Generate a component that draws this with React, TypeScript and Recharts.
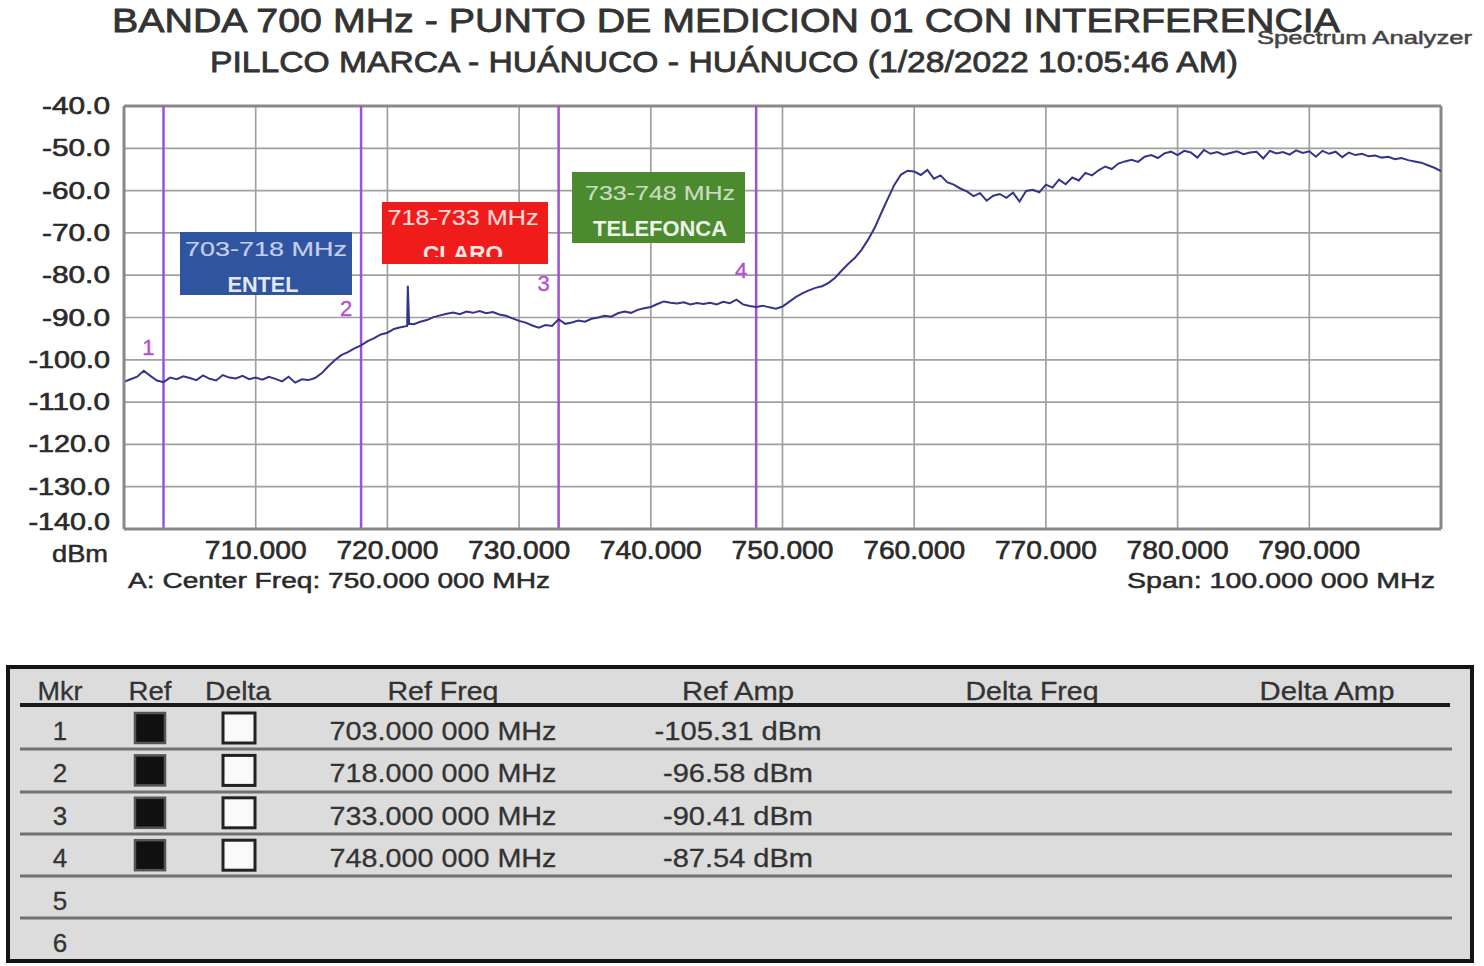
import React from 'react';
import { LineChart, Line, XAxis, YAxis, CartesianGrid, ReferenceLine, ReferenceDot } from 'recharts';

// ---------- data ----------
const SWEEP_START = 700;
const SWEEP_STEP = 0.5;
// trace amplitude (dBm) every 0.5 MHz from 700 to 800 MHz
const traceDbm = [
  -105.2, -104.6, -104.0, -102.6, -103.8, -104.9, -105.3, -104.2, -104.6, -103.9,
  -104.3, -104.8, -103.7, -104.5, -104.9, -103.6, -104.2, -104.4, -103.8, -104.6,
  -104.2, -104.7, -104.0, -104.5, -105.1, -104.0, -105.4, -104.6, -104.8, -104.3,
  -103.2, -101.6, -100.1, -98.9, -98.2, -97.3, -96.6, -95.6, -94.9, -94.0,
  -93.6, -92.7, -92.3, -92.0, -91.6, -91.0, -90.6, -89.9, -89.5, -89.1,
  -88.8, -89.2, -88.6, -88.9, -88.5, -89.0, -88.7, -89.3, -89.6, -90.2,
  -90.8, -91.2, -91.9, -92.4, -91.8, -92.0, -90.4, -91.5, -91.2, -90.7,
  -91.0, -90.3, -90.0, -89.6, -89.8, -89.0, -88.6, -88.9, -88.2, -87.8,
  -87.5, -86.8, -86.2, -86.5, -86.7, -86.4, -86.9, -86.6, -86.8, -86.5,
  -86.9, -86.3, -86.6, -85.8, -86.9, -87.3, -87.5, -87.2, -87.6, -87.9,
  -87.4, -86.3, -85.2, -84.3, -83.6, -83.0, -82.6, -81.8, -80.6, -78.9,
  -77.3, -75.9, -74.0, -71.6, -68.8, -65.3, -61.9, -58.6, -56.2, -55.3,
  -55.5, -56.3, -55.1, -57.2, -56.4, -58.0, -58.6, -59.5, -60.2, -61.3,
  -60.6, -62.4, -61.2, -60.8, -61.7, -60.5, -62.6, -60.1, -59.8, -60.4,
  -58.6, -59.3, -57.4, -58.5, -56.9, -57.6, -55.8, -56.4, -55.2, -54.3,
  -54.9, -53.6, -53.1, -52.7, -53.2, -52.0, -51.6, -52.3, -51.2, -50.8,
  -51.6, -50.6, -51.0, -52.2, -50.4, -51.3, -50.9, -51.5, -51.1, -50.7,
  -51.4, -51.0, -50.8, -52.4, -50.6, -51.2, -50.9, -51.5, -50.5, -51.1,
  -50.7, -52.0, -50.6, -51.3, -50.8, -52.1, -51.0, -51.6, -51.3, -51.9,
  -51.7, -52.2, -52.0, -52.6, -52.3, -52.8, -53.1, -53.4, -54.0, -54.6,
  -55.4,
];
// narrow interference spike near 721.5 MHz
const spikeFreqs = [721.55, 721.65];
const spikeDbm = [-82.5, -91.5];

const xTicks = [710, 720, 730, 740, 750, 760, 770, 780, 790];
const yTicks = [-40, -50, -60, -70, -80, -90, -100, -110, -120, -130, -140];

const markerIds = [1, 2, 3, 4];
const markerFreqs = [703, 718, 733, 748];
const markerLabelDbm = [-97, -87.8, -81.8, -78.8];
const markerFreqText = ['703.000 000 MHz', '718.000 000 MHz', '733.000 000 MHz', '748.000 000 MHz'];
const markerAmpText = ['-105.31 dBm', '-96.58 dBm', '-90.41 dBm', '-87.54 dBm'];
const tableRowIds = [1, 2, 3, 4, 5, 6];
const tableHeaders = ['Mkr', 'Ref', 'Delta', 'Ref Freq', 'Ref Amp', 'Delta Freq', 'Delta Amp'];

const chartData = [
  ...traceDbm.map((v, i) => ({ f: SWEEP_START + i * SWEEP_STEP, v })),
  ...spikeFreqs.map((f, i) => ({ f, v: spikeDbm[i] })),
].sort((a, b) => a.f - b.f);

// ---------- styling ----------
const FONT = '"Liberation Sans", Arial, Helvetica, sans-serif';

function T(props: any) {
  const { x, y, children, size, len, anchor = 'middle', weight = 400, fill = '#333', clip, sw = 0.5 } = props;
  return (
    <text
      x={x}
      y={y}
      fontSize={size}
      fontFamily={FONT}
      fontWeight={weight}
      textAnchor={anchor}
      fill={fill}
      stroke={fill}
      strokeWidth={sw}
      textLength={len}
      lengthAdjust="spacingAndGlyphs"
      clipPath={clip}
    >
      {children}
    </text>
  );
}

const YTick = (props: any) => {
  const { x, y, payload } = props;
  const label = payload.value.toFixed(1);
  const yy = payload.value === -140 ? y - 7 : y;
  return (
    <text x={x - 2} y={yy + 8} textAnchor="end" fontFamily={FONT} fontSize={23} fill="#2a2a2a"
      stroke="#2a2a2a" strokeWidth={0.6}
      textLength={label.length * 13.6} lengthAdjust="spacingAndGlyphs">
      {label}
    </text>
  );
};

const XTick = (props: any) => {
  const { x, y, payload } = props;
  const label = payload.value.toFixed(3);
  return (
    <text x={x} y={y + 30} textAnchor="middle" fontFamily={FONT} fontSize={25} fill="#2a2a2a"
      stroke="#2a2a2a" strokeWidth={0.6}
      textLength={102} lengthAdjust="spacingAndGlyphs">
      {label}
    </text>
  );
};

const headerX = [60, 150, 238, 443, 738, 1032, 1327];
const headerLen = [45, 43, 66, 111, 112, 133, 135];

export default function App() {
  return (
    <div style={{ position: 'absolute', left: 0, top: 0, width: 1484, height: 966, background: '#ffffff', overflow: 'hidden' }}>
      <div style={{ position: 'absolute', left: 0, top: 0 }}>
        <LineChart width={1484} height={620} data={chartData} margin={{ top: 106, right: 43, left: 0, bottom: 0 }}>
          <CartesianGrid stroke="#a0a0a0" strokeWidth={1.7} horizontalValues={yTicks} verticalValues={xTicks} />
          <XAxis
            type="number"
            dataKey="f"
            domain={[700, 800]}
            ticks={xTicks}
            height={91}
            tickSize={0}
            tickMargin={0}
            tickLine={false}
            axisLine={{ stroke: '#888888', strokeWidth: 3 }}
            tick={<XTick />}
            interval={0}
            allowDataOverflow
          />
          <YAxis
            type="number"
            domain={[-140, -40]}
            ticks={yTicks}
            width={124}
            tickSize={0}
            tickMargin={12}
            tickLine={false}
            axisLine={{ stroke: '#888888', strokeWidth: 3 }}
            tick={<YTick />}
            interval={0}
            allowDataOverflow
          />
          <ReferenceLine y={-40} stroke="#888888" strokeWidth={3} />
          <ReferenceLine x={800} stroke="#888888" strokeWidth={3} />
          {markerFreqs.map((f) => (
            <ReferenceLine key={'m' + f} x={f} stroke="#9c52d2" strokeWidth={2.5} />
          ))}
          <Line
            type="linear"
            dataKey="v"
            stroke="#34348a"
            strokeWidth={2}
            dot={false}
            isAnimationActive={false}
          />
          {markerFreqs.map((f, i) => (
            <ReferenceDot
              key={'ml' + f}
              x={f - 1.14}
              y={markerLabelDbm[i]}
              r={0}
              shape={(p: any) => (
                <text x={p.cx} y={p.cy + 8} textAnchor="middle" fontFamily={FONT} fontSize={22} fill="#b450cc"
                  stroke="#b450cc" strokeWidth={0.4}>
                  {markerIds[i]}
                </text>
              )}
            />
          ))}
        </LineChart>
      </div>

      <svg width={1484} height={966} style={{ position: 'absolute', left: 0, top: 0, pointerEvents: 'none' }}>
        <defs>
          <clipPath id="claroClip">
            <rect x={382} y={202} width={166} height={55} />
          </clipPath>
        </defs>
        {/* titles */}
        <T x={726} y={32} size={33} len={1228} sw={0.8}>BANDA 700 MHz - PUNTO DE MEDICION 01 CON INTERFERENCIA</T>
        <T x={724} y={72} size={30} len={1028} sw={0.8}>PILLCO MARCA - HUÁNUCO - HUÁNUCO (1/28/2022 10:05:46 AM)</T>
        <T x={1257} y={44} size={19} len={215} anchor="start" fill="#444">Spectrum Analyzer</T>

        {/* band annotation boxes */}
        <rect x={180} y={232} width={172} height={63} fill="#2f55a0" />
        <T x={266} y={256} size={21} len={162} fill="#c5cdf0" sw={0.2}>703-718 MHz</T>
        <T x={263} y={292} size={22} len={71} weight={700} fill="#e4e8f4" sw={0}>ENTEL</T>

        <rect x={382} y={202} width={166} height={62} fill="#f01c1c" />
        <T x={463} y={225} size={22} len={151} fill="#ffd8d8" sw={0.2}>718-733 MHz</T>
        <T x={463} y={261} size={22} len={80} weight={700} fill="#ffe8e8" sw={0} clip="url(#claroClip)">CLARO</T>

        <rect x={572} y={172} width={173} height={71} fill="#4b8a2f" />
        <T x={660} y={200} size={21} len={150} fill="#c9dcc0" sw={0.2}>733-748 MHz</T>
        <T x={660} y={236} size={22} len={134} weight={700} fill="#eef4ea" sw={0}>TELEFONCA</T>

        {/* axis footer */}
        <T x={52} y={562} size={24} len={56} anchor="start" fill="#2a2a2a">dBm</T>
        <T x={128} y={588} size={22} len={422} anchor="start" fill="#2a2a2a">A: Center Freq: 750.000 000 MHz</T>
        <T x={1127} y={588} size={22} len={308} anchor="start" fill="#2a2a2a">Span: 100.000 000 MHz</T>

        {/* marker table */}
        <rect x={8} y={667} width={1464} height={294} fill="#dcdcdc" stroke="#141414" strokeWidth={4} />
        {tableHeaders.map((h, i) => (
          <T key={h} x={headerX[i]} y={700} size={26} len={headerLen[i]} fill="#333" sw={0.3}>{h}</T>
        ))}
        <line x1={20} x2={1450} y1={705} y2={705} stroke="#1a1a1a" strokeWidth={4} />
        {[749, 792, 834, 876, 918].map((ly) => (
          <line key={ly} x1={20} x2={1452} y1={ly} y2={ly} stroke="#707070" strokeWidth={3} />
        ))}
        {tableRowIds.map((id, i) => {
          const cy = 730 + i * 42.4;
          const hasMarker = i < markerFreqText.length;
          return (
            <g key={id}>
              <T x={60} y={cy + 10} size={26} fill="#333" sw={0.3}>{String(id)}</T>
              {hasMarker && (
                <>
                  <rect x={135} y={cy - 17} width={30} height={30} fill="#111" stroke="#555" strokeWidth={2.5} />
                  <rect x={223} y={cy - 17} width={32} height={30} fill="#fafafa" stroke="#222" strokeWidth={3} />
                  <T x={443} y={cy + 10} size={26} len={227} fill="#333" sw={0.3}>{markerFreqText[i]}</T>
                  <T x={738} y={cy + 10} size={26} len={i === 0 ? 167 : 150} fill="#333" sw={0.3}>{markerAmpText[i]}</T>
                </>
              )}
            </g>
          );
        })}
      </svg>
    </div>
  );
}
